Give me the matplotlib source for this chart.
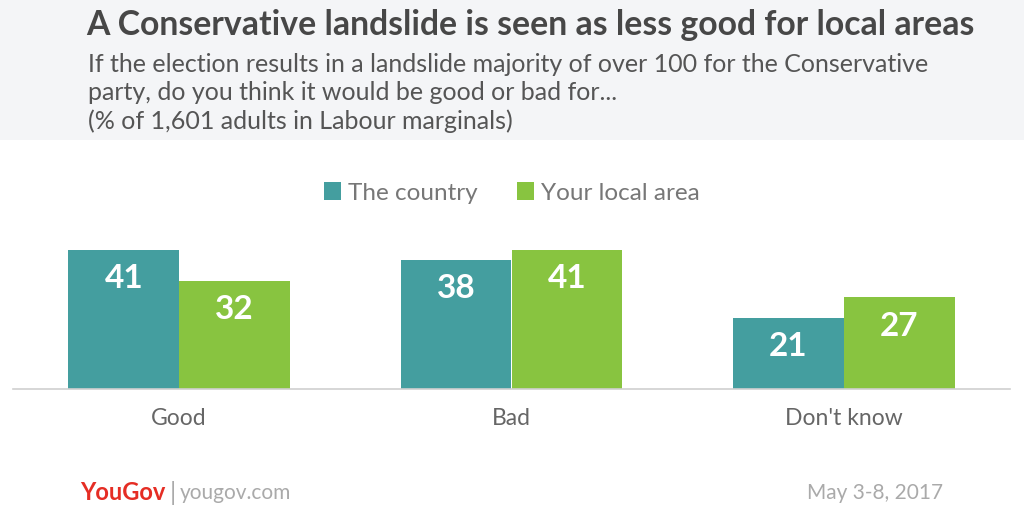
import matplotlib.pyplot as plt
import numpy as np
from matplotlib.patches import Rectangle

plt.rcParams['font.family'] = ['Lato', 'DejaVu Sans']

categories = ['Good', 'Bad', "Don't know"]
country = [41, 38, 21]
local_area = [32, 41, 27]
series_names = ['The country', 'Your local area']
colors = ['#449e9f', '#88c440']

fig = plt.figure(figsize=(10.24, 5.12), dpi=100)
fig.patch.set_facecolor('white')

# grey header band
fig.patches.append(Rectangle((0, 1 - 140 / 512), 1, 140 / 512, transform=fig.transFigure,
                             facecolor='#f4f5f7', edgecolor='none', zorder=0))

fig.text(86 / 1024, 1 - 25 / 512, 'A Conservative landslide is seen as less good for local areas',
         fontsize=24.3, fontweight='bold', color='#474747', va='center')
sub = ('If the election results in a landslide majority of over 100 for the Conservative\n'
       'party, do you think it would be good or bad for...\n'
       '(% of 1,601 adults in Labour marginals)')
fig.text(88 / 1024, 1 - 53 / 512, sub, fontsize=18, color='#555555', va='top', linespacing=1.27)

ax = fig.add_axes([13 / 1024, 123 / 512, 997 / 1024, 169.5 / 512])
x = np.arange(len(categories))
w = 0.333
b1 = ax.bar(x - w / 2, country, w, color=colors[0])
b2 = ax.bar(x + w / 2, local_area, w, color=colors[1])
for bars in (b1, b2):
    for r in bars:
        ax.text(r.get_x() + r.get_width() / 2, r.get_height() - 8.5, str(int(r.get_height())),
                ha='center', va='center', color='white', fontsize=24, fontweight='bold')

ax.set_xlim(-0.5, 2.5)
ax.set_ylim(0, 50)
ax.set_yticks([])
ax.set_xticks(x)
ax.set_xticklabels(categories, fontsize=16.5, color='#666666')
ax.tick_params(axis='x', length=0, pad=14)
for s in ['top', 'right', 'left']:
    ax.spines[s].set_visible(False)
ax.spines['bottom'].set_color('#d0d0d0')
ax.spines['bottom'].set_linewidth(1.2)
ax.set_facecolor('none')

# legend
leg = fig.legend(handles=[b1, b2], labels=series_names, loc='center', bbox_to_anchor=(0.5, 1 - 193 / 512),
                 ncol=2, frameon=False, fontsize=17.5, handlelength=0.7, handleheight=0.7,
                 handletextpad=0.3, columnspacing=1.6)
for t in leg.get_texts():
    t.set_color('#777777')

# footer
fig.text(80 / 1024, 1 - 493 / 512, 'YouGov', fontsize=17, fontweight='bold', color='#e52d24',
         va='center')
fig.text(170 / 1024, 1 - 493 / 512, '|', fontsize=18, color='#aaaaaa', va='center')
fig.text(180 / 1024, 1 - 493 / 512, 'yougov.com', fontsize=15, color='#aaaaaa', va='center')
fig.text(943 / 1024, 1 - 493 / 512, 'May 3-8, 2017', fontsize=15, color='#aaaaaa', va='center',
         ha='right')

fig.savefig('out.png', dpi=100)
